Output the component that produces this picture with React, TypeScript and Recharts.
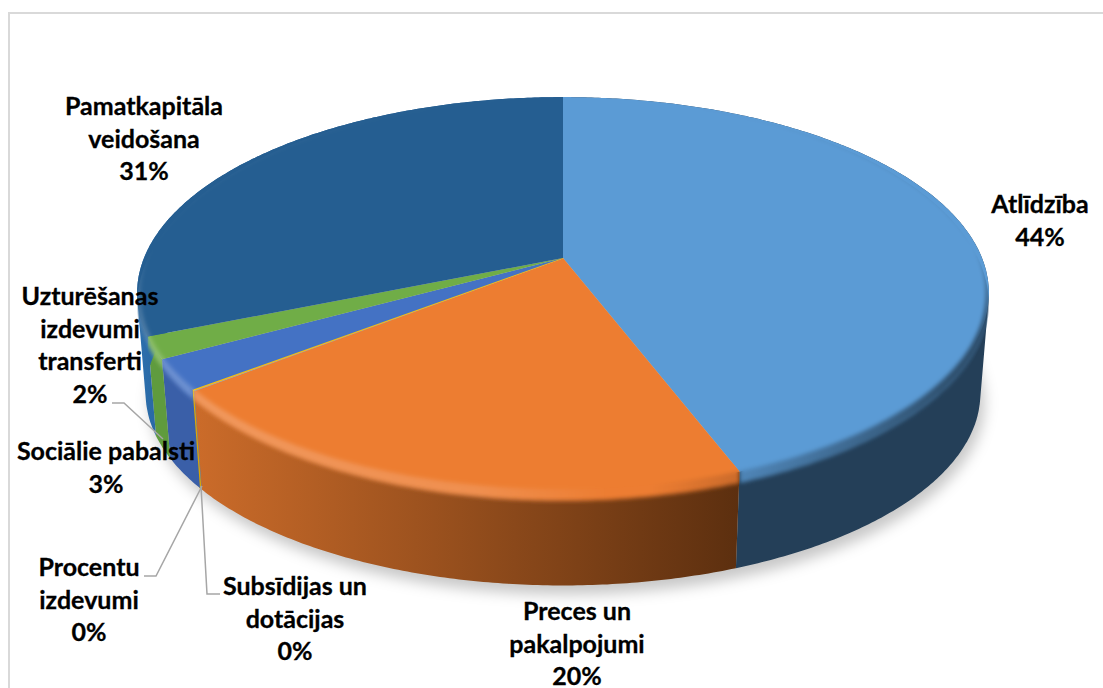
import React from 'react';
import { PieChart, Pie } from 'recharts';

const names = ['Atlīdzība', 'Preces un pakalpojumi', 'Subsīdijas un dotācijas', 'Procentu izdevumi', 'Sociālie pabalsti', 'Uzturēšanas izdevumi transferti', 'Pamatkapitāla veidošana'];
const values = [44.3, 20.0, 0.05, 0.05, 2.5, 1.8, 31.3];
const percentLabels = ['44%', '20%', '0%', '0%', '3%', '2%', '31%'];

const topColors = ['#5b9bd5', '#ed7d31', '#a5a5a5', '#ffc000', '#4472c4', '#70ad47', '#255e91'];
const wallFrom = ['#243f58', '#cc6c2a', '#7f7f7f', '#e0a800', '#3a5fa8', '#5f9b3e', '#2c6fae'];
const wallTo = ['#243f58', '#5c2f0f', '#7f7f7f', '#e0a800', '#34589c', '#5a9339', '#235a8e'];

// label text layout: centre x, first baseline, split lines
const labelLayout = [
  { x: 1040, y: 213, lines: ['Atlīdzība', '44%'] },
  { x: 577, y: 620, lines: ['Preces un', 'pakalpojumi', '20%'] },
  { x: 295, y: 595, lines: ['Subsīdijas un', 'dotācijas', '0%'] },
  { x: 89, y: 576, lines: ['Procentu', 'izdevumi', '0%'] },
  { x: 106, y: 460, lines: ['Sociālie pabalsti', '3%'] },
  { x: 90, y: 305, lines: ['Uzturēšanas', 'izdevumi', 'transferti', '2%'] },
  { x: 144, y: 115, lines: ['Pamatkapitāla', 'veidošana', '31%'] },
];
const leaderLines: Record<number, string> = {
  2: '220,594 207,594 201,486',
  3: '144,576 156,576 202,486',
  5: '112,403 124,403 163,439',
};

const data = names.map((name, i) => ({ name, value: values[i], percent: percentLabels[i] }));

const PERSPECTIVE = 0.179;
const TILT = 189.7;
const DEPTH = 101;
const BOTTOM_SCALE = 0.98;
const TOP_Y = 97; // back edge of the disc
const BEVEL = 1.03; // the rounded rim hangs a little below the slice ends

// homography from the flat disc to the tilted one
const project = (cx: number, cy: number, r: number, t: number) => {
  const X = Math.sin(t);
  const Y = -Math.cos(t);
  const w = 1 - PERSPECTIVE * Y;
  return [cx + (r * X) / w, cy + (TILT * Y) / w];
};

const rimPoints = (cx: number, cy: number, r: number, t0: number, t1: number) => {
  const n = Math.max(2, Math.ceil(Math.abs(t1 - t0) / 0.01));
  const pts: number[][] = [];
  for (let i = 0; i <= n; i++) pts.push(project(cx, cy, r, t0 + ((t1 - t0) * i) / n));
  return pts;
};

const toPath = (pts: number[][]) => pts.map((p, i) => `${i ? 'L' : 'M'}${p[0].toFixed(1)} ${p[1].toFixed(1)}`).join(' ');
const lower = (cx: number, cy: number, p: number[]) => [cx + (p[0] - cx) * BOTTOM_SCALE, cy + DEPTH + (p[1] - cy) * BOTTOM_SCALE];
const drop = (p: number[], s: number) => [p[0], TOP_Y + (p[1] - TOP_Y) * s];
const angles = (p: any) => [((90 - p.startAngle) * Math.PI) / 180, ((90 - p.endAngle) * Math.PI) / 180];
const indexOf = (p: any) => names.indexOf(p.name);

// the wall as small quads, all wound the same way, so the silhouette stays filled
const wallPath = (top: number[][], bottom: number[][]) => {
  let d = '';
  for (let k = 0; k < top.length - 1; k++) {
    const quad = [top[k], top[k + 1], bottom[k + 1], bottom[k]];
    let area = 0;
    quad.forEach((a, j) => {
      const b = quad[(j + 1) % 4];
      area += a[0] * b[1] - b[0] * a[1];
    });
    d += toPath(area < 0 ? quad.reverse() : quad) + ' Z ';
  }
  return d;
};

const WallShape = (p: any) => {
  const i = indexOf(p);
  const { cx, cy, outerRadius: r } = p;
  const [t0, t1] = angles(p);
  const top = rimPoints(cx, cy, r, t0, t1);
  const bottom = top.map((q) => lower(cx, cy, q));
  const whole = rimPoints(cx, cy, r, 0, Math.PI * 2).map((q) => lower(cx, cy, q));
  return (
    <g>
      {i === 0 && (
        <>
          <defs>
            <filter id="soft" x="-10%" y="-10%" width="120%" height="120%">
              <feGaussianBlur stdDeviation="7" />
            </filter>
            <filter id="rimBlur" x="-5%" y="-5%" width="110%" height="110%">
              <feGaussianBlur stdDeviation="2" />
            </filter>
            <linearGradient id="rim" gradientUnits="userSpaceOnUse" x1="138" y1="0" x2="990" y2="0">
              <stop offset="0" stopColor="#fff" stopOpacity="0.22" />
              <stop offset="0.4" stopColor="#fff" stopOpacity="0.14" />
              <stop offset="0.55" stopColor="#fff" stopOpacity="0" />
              <stop offset="0.6" stopColor="#000" stopOpacity="0" />
              <stop offset="0.75" stopColor="#000" stopOpacity="0.2" />
              <stop offset="1" stopColor="#000" stopOpacity="0.55" />
            </linearGradient>
            {names.map((_, k) => (
              <linearGradient key={k} id={`wall${k}`} gradientUnits="userSpaceOnUse" x1={k === 6 ? 138 : 190} y1="0" x2={k === 6 ? 200 : 740} y2="0">
                <stop offset="0" stopColor={wallFrom[k]} />
                <stop offset="1" stopColor={wallTo[k]} />
              </linearGradient>
            ))}
          </defs>
          <path d={toPath(whole) + ' Z'} transform="translate(4 9)" fill="#000" fillOpacity={0.22} filter="url(#soft)" />
        </>
      )}
      <path d={wallPath(top, bottom)} fill={wallFrom[i]} stroke={values[i] < 1 ? wallFrom[i] : 'none'} strokeWidth={values[i] < 1 ? 0.8 : 0} style={values[i] < 1 ? undefined : { fill: `url(#wall${i})` }} />
    </g>
  );
};

const TopShape = (p: any) => {
  const i = indexOf(p);
  const { cx, cy, outerRadius: r } = p;
  const [t0, t1] = angles(p);
  const rim = rimPoints(cx, cy, r, t0, t1);
  const d = `M${cx} ${cy} ` + toPath(rim).replace(/^M/, 'L') + ' Z';
  const band = toPath([...rim.map((q) => drop(q, 0.97)), ...rim.map((q) => drop(q, BEVEL)).reverse()]) + ' Z';
  // clip reaches past the blurred edge but keeps the slice sides straight
  const clip = `M${cx} ${cy} ` + toPath([rim[0], ...rim.map((q) => drop(q, 1.06)), rim[rim.length - 1]]).replace(/^M/, 'L') + ' Z';
  const outer = rimPoints(cx, cy, r, 0, Math.PI * 2);
  const strip = toPath(outer.map((q) => drop(q, BEVEL))) + ' Z ' + toPath(outer.map((q) => [cx + (q[0] - cx) * 0.994, TOP_Y + (q[1] - TOP_Y) * 1.0])) + ' Z';
  return (
    <g>
      <defs>
        <clipPath id={`top${i}`}>
          <path d={clip} />
        </clipPath>
      </defs>
      <g clipPath={`url(#top${i})`}>
        <path d={band} fill={topColors[i]} filter="url(#rimBlur)" />
      </g>
      <path d={d} fill={topColors[i]} stroke={values[i] < 1 ? topColors[i] : 'none'} strokeWidth={values[i] < 1 ? 0.8 : 0} />
      <g clipPath={`url(#top${i})`}>
        <path d={strip} fillRule="evenodd" fill="url(#rim)" filter="url(#rimBlur)" />
      </g>
    </g>
  );
};

const renderLabel = (p: any) => {
  const i = indexOf(p);
  const l = labelLayout[i];
  return (
    <g key={i}>
      {leaderLines[i] && <polyline points={leaderLines[i]} fill="none" stroke="#a6a6a6" strokeWidth={1.5} />}
      <text textAnchor="middle" fontFamily="Lato" fontWeight={700} fontSize={25} fill="#000" stroke="#000" strokeWidth={0.3}>
        {l.lines.map((line, k) => (
          <tspan key={k} x={l.x} y={l.y + k * 32.5}>{line}</tspan>
        ))}
      </text>
    </g>
  );
};

export default function App() {
  return (
    <div style={{ position: 'absolute', left: 0, top: 0, width: 1103, height: 688, background: '#fff', overflow: 'hidden' }}>
      <div style={{ position: 'absolute', left: 8, top: 12, right: 0, bottom: -2, borderLeft: '2px solid #d9d9d9', borderTop: '2px solid #d9d9d9' }} />
      <div style={{ position: 'absolute', left: 0, top: 0 }}>
        <PieChart width={1103} height={688} margin={{ top: 0, right: 0, bottom: 0, left: 0 }}>
          <Pie data={data} dataKey="value" nameKey="name" cx={563} cy={258} outerRadius={419} startAngle={90} endAngle={-270} stroke="none" shape={WallShape} isAnimationActive={false} />
          <Pie data={data} dataKey="value" nameKey="name" cx={563} cy={258} outerRadius={419} startAngle={90} endAngle={-270} stroke="none" shape={TopShape} label={renderLabel} labelLine={false} isAnimationActive={false} />
        </PieChart>
      </div>
    </div>
  );
}
